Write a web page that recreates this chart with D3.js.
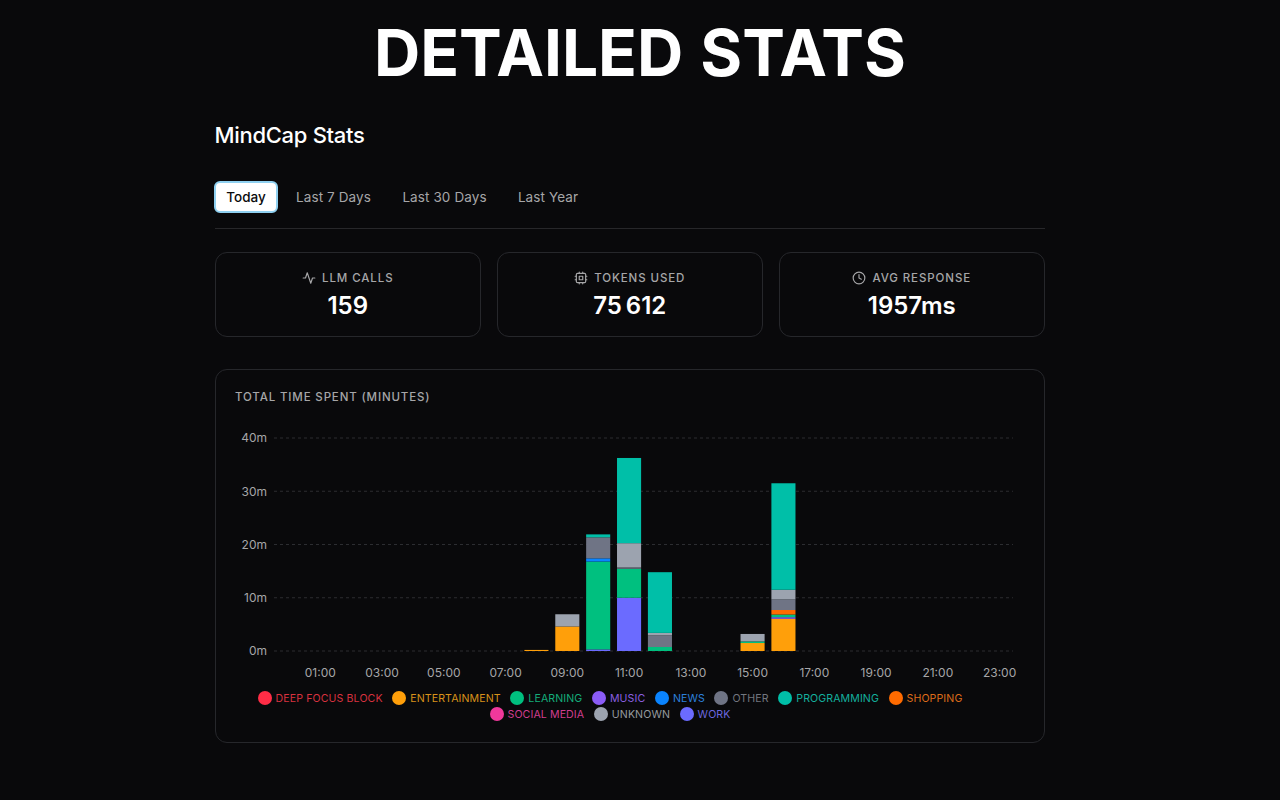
<!DOCTYPE html>
<html lang="en">
<head>
<meta charset="utf-8">
<title>Detailed Stats</title>
<script src="https://cdn.jsdelivr.net/npm/d3@7/dist/d3.min.js"></script>
<style>
  html, body { margin: 0; padding: 0; background: #09090b; }
  body { width: 1280px; height: 800px; position: relative; overflow: hidden; font-family: Inter, sans-serif; color: #fff; }
  .abs { position: absolute; }
  h1 { position: absolute; left: 0; width: 1280px; top: 15px; margin: 0; text-align: center; font-size: 64px; line-height: 76px; font-weight: 700; letter-spacing: 0; word-spacing: 2px; }
  h2 { position: absolute; left: 214.5px; top: 120px; margin: 0; font-size: 22px; line-height: 30px; font-weight: 500; letter-spacing: -0.3px; }
  .tab { position: absolute; top: 181px; height: 32px; line-height: 32px; font-size: 13.5px; color: #a6a6a8; text-align: center; letter-spacing: .1px; }
  .tab.active { box-sizing: border-box; background: #fff; color: #0a0a0c; border-radius: 6px; border: 2px solid #8fd0f0; line-height: 28px; font-weight: 500; letter-spacing: 0; }
  .rule { position: absolute; left: 215px; top: 228px; width: 830px; height: 1px; background: #27272a; }
  .card { position: absolute; box-sizing: border-box; border: 1px solid #26272b; border-radius: 12px; }
  .stat { top: 252px; height: 85px; width: 266.5px; text-align: center; }
  .stat .lbl { position: absolute; top: 17px; left: 0; right: 0; display: flex; justify-content: center; align-items: center; gap: 6px; font-size: 11.5px; line-height: 16px; letter-spacing: .9px; font-weight: 500; color: #a6a6a8; }
  .stat .val { position: absolute; top: 37px; left: 0; right: 0; font-size: 24px; line-height: 32px; font-weight: 600; color: #fff; }
  .stat svg { width: 14px; height: 14px; fill: none; stroke: #a6a6a8; stroke-width: 2; stroke-linecap: round; stroke-linejoin: round; }
  .chart-title { position: absolute; left: 235px; top: 389px; font-size: 11.5px; line-height: 16px; letter-spacing: .85px; font-weight: 500; color: #a6a6a8; }
  #legend { position: absolute; left: 240px; width: 740px; top: 690px; display: flex; flex-wrap: wrap; justify-content: center; column-gap: 9.6px; row-gap: 0; }
  .item { display: flex; align-items: center; gap: 4px; height: 16px; font-size: 10.6px; white-space: nowrap; letter-spacing: .1px; }
  .dot { width: 14px; height: 14px; border-radius: 50%; }
  #chart { position: absolute; left: 0; top: 0; }
  .tick text { font-family: Inter, sans-serif; font-size: 12px; fill: #a6a6a8; }
</style>
</head>
<body>
<h1>DETAILED STATS</h1>
<h2>MindCap Stats</h2>
<div class="rule"></div>
<div class="card abs" style="left:214.5px;top:369px;width:830.5px;height:374px"></div>
<div class="chart-title">TOTAL TIME SPENT (MINUTES)</div>
<svg id="chart" width="1280" height="800"></svg>
<div id="legend"></div>
<script>
// Dashboard copy
const tabLabels = ["Today", "Last 7 Days", "Last 30 Days", "Last Year"];
const statLabels = ["LLM CALLS", "TOKENS USED", "AVG RESPONSE"];
const statValues = ["159", "75\u2009612", "1957ms"];

// Hours of the day and the ticks shown on the x axis
const hours = d3.range(24).map(h => String(h).padStart(2, "0") + ":00");
const hourTicks = hours.filter((_, i) => i % 2 === 1);
const minuteTicks = [0, 10, 20, 30, 40];

// Legend order
const categories = ["DEEP FOCUS BLOCK", "ENTERTAINMENT", "LEARNING", "MUSIC", "NEWS", "OTHER", "PROGRAMMING", "SHOPPING", "SOCIAL MEDIA", "UNKNOWN", "WORK"];
const categoryColors = ["#ff2d46", "#ff9f0a", "#00c07f", "#8b5cf6", "#0a84ff", "#6f7485", "#00bfa8", "#ff6b00", "#f0389b", "#9ca3af", "#6b6bff"];
const textColors = ["#d8323f", "#d8921a", "#14ad7a", "#8a5fe0", "#2c80dc", "#72767f", "#14b09e", "#de6c1a", "#d03e8e", "#95999f", "#6a66de"];

// Bars are stacked from the bottom in this order
const stackOrder = ["WORK", "ENTERTAINMENT", "MUSIC", "LEARNING", "SHOPPING", "NEWS", "OTHER", "UNKNOWN", "PROGRAMMING"];

// Minutes per category for the hours with activity
const activeHours = ["08:00", "09:00", "10:00", "11:00", "12:00", "15:00", "16:00"];
const work          = [0,   0,   0.3,  10.0, 0,    0,   0];
const entertainment = [0.2, 4.6, 0,    0,    0,    1.5, 6.05];
const music         = [0,   0,   0,    0,    0,    0,   0.3];
const learning      = [0,   0,   16.5, 5.45, 0.75, 0.3, 0.5];
const shopping      = [0,   0,   0,    0,    0,    0,   0.85];
const news          = [0,   0,   0.6,  0,    0,    0,   0];
const other         = [0,   0,   3.95, 0.25, 2.2,  0,   2.0];
const unknown       = [0,   2.3, 0,    4.55, 0.45, 1.4, 1.8];
const programming   = [0,   0,   0.55, 16.0, 11.4, 0,   20.0];
const seriesValues = { WORK: work, ENTERTAINMENT: entertainment, MUSIC: music, LEARNING: learning, SHOPPING: shopping, NEWS: news, OTHER: other, UNKNOWN: unknown, PROGRAMMING: programming };

const colorOf = d3.scaleOrdinal(categories, categoryColors);
const body = d3.select("body");

// Range tabs
const tabLeft = [214, 285, 391, 507], tabWidth = [64, 97, 107, 82];
body.selectAll(".tab").data(tabLabels).join("div")
  .attr("class", (d, i) => i === 0 ? "tab active" : "tab")
  .style("left", (d, i) => tabLeft[i] + "px")
  .style("width", (d, i) => tabWidth[i] + "px")
  .text(d => d);

// Stat cards with their line icons
const icons = [
  '<path d="M22 12h-4l-3 9L9 3l-3 9H2"/>',
  '<rect x="4" y="4" width="16" height="16" rx="2"/><rect x="9" y="9" width="6" height="6"/><path d="M15 2v2M15 20v2M2 15h2M2 9h2M20 15h2M20 9h2M9 2v2M9 20v2"/>',
  '<circle cx="12" cy="12" r="10"/><path d="M12 6v6l4 2"/>'
];
const cardLeft = [214.5, 496.5, 778.5];
const stat = body.selectAll(".stat").data(statLabels).join("div")
  .attr("class", "card stat")
  .style("left", (d, i) => cardLeft[i] + "px");
const lbl = stat.append("div").attr("class", "lbl");
lbl.append("svg").attr("viewBox", "0 0 24 24").html((d, i) => icons[i]);
lbl.append("span").text(d => d);
stat.append("div").attr("class", "val").text((d, i) => statValues[i]);

// Stacked bar chart
const svg = d3.select("#chart");
const x = d3.scaleBand().domain(hours).range([274, 1015]).paddingInner(0.22).paddingOuter(0.11);
const y = d3.scaleLinear().domain([0, 40]).range([651, 438]);

svg.append("g").selectAll("line").data(minuteTicks).join("line")
  .attr("x1", 274).attr("x2", 1013)
  .attr("y1", d => y(d)).attr("y2", d => y(d))
  .attr("stroke", "#2c2d31").attr("stroke-dasharray", "3 3");

const yAxis = d3.axisLeft(y).tickValues(minuteTicks).tickFormat(d => d + "m").tickSize(0).tickPadding(7);
svg.append("g").attr("transform", "translate(274,0)").call(yAxis).call(g => g.select(".domain").remove());

const xAxis = d3.axisBottom(x).tickValues(hourTicks).tickSize(0).tickPadding(17);
svg.append("g").attr("transform", "translate(0,651)").call(xAxis).call(g => g.select(".domain").remove());

const rows = activeHours.map((hour, i) => {
  const row = { hour };
  stackOrder.forEach(k => { row[k] = seriesValues[k][i]; });
  return row;
});
const stacked = d3.stack().keys(stackOrder)(rows);
svg.append("g").selectAll("g").data(stacked).join("g")
  .attr("fill", d => colorOf(d.key))
  .selectAll("rect").data(d => d.filter(s => s[1] > s[0])).join("rect")
  .attr("x", d => x(d.data.hour))
  .attr("width", x.bandwidth())
  .attr("y", d => y(d[1]))
  .attr("height", d => y(d[0]) - y(d[1]));

// Legend
const item = d3.select("#legend").selectAll(".item").data(categories).join("div").attr("class", "item");
item.append("div").attr("class", "dot").style("background", d => colorOf(d));
item.append("span").style("color", (d, i) => textColors[i]).text(d => d);
</script>
</body>
</html>
